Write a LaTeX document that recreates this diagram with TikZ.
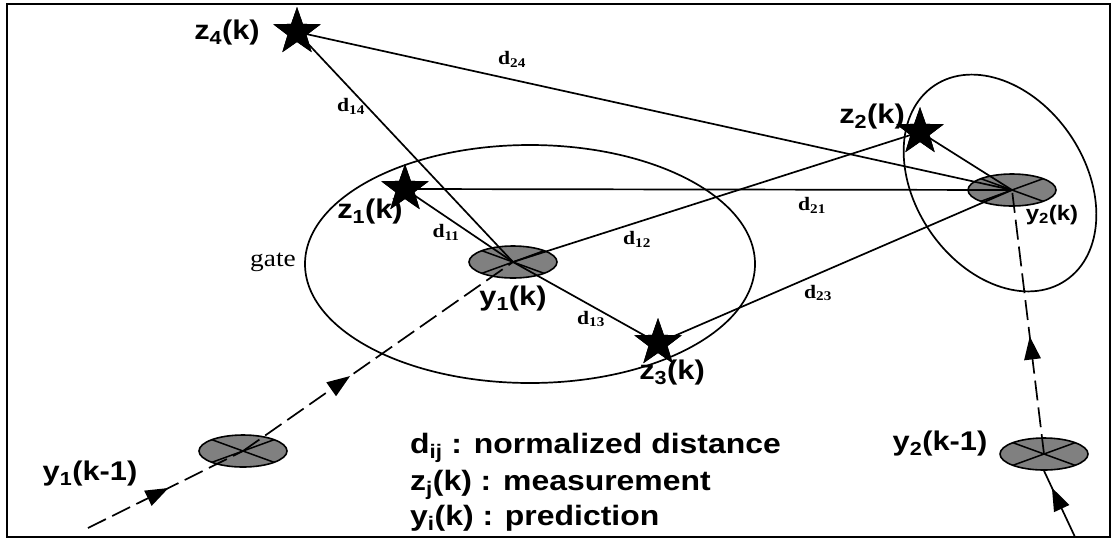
\documentclass[tikz,border=0pt]{standalone}
\usepackage{fontspec}
\setmainfont{Liberation Serif}
\newfontfamily\labfont[FakeStretch=1.14]{Liberation Sans}
\newfontfamily\dfont[FakeStretch=1.14]{Liberation Serif}
\usetikzlibrary{shapes.geometric,decorations.markings}
\definecolor{predgray}{HTML}{808080}
\begin{document}
\begin{tikzpicture}[x=1pt,y=-1pt,
  pred/.style={ellipse,draw,line width=1.6pt,fill=predgray,minimum width=88pt,minimum height=32pt,inner sep=0pt,
    path picture={\draw[line width=1.5pt] (path picture bounding box.north west)--(path picture bounding box.south east)
      (path picture bounding box.south west)--(path picture bounding box.north east);}},
  gatebox/.style={ellipse,draw,line width=1.7pt,inner sep=0pt},
  meas/.style={star,star points=5,star point ratio=2.5,fill=black,minimum size=50pt,inner sep=0pt},
  lab/.style={font=\labfont\bfseries\fontsize{27}{32}\selectfont,inner sep=0pt},
  smlab/.style={font=\labfont\bfseries\fontsize{21}{25}\selectfont,inner sep=0pt},
  leg/.style={font=\labfont\bfseries\fontsize{28}{34}\selectfont,inner sep=0pt,anchor=base west},
  dlab/.style={font=\dfont\bfseries\fontsize{19}{22}\selectfont,inner sep=0pt},
  conn/.style={line width=1.7pt},
  traj/.style={line width=1.7pt,dash pattern=on 20pt off 7pt},
  midarrow/.style={postaction={decorate},decoration={markings,mark=at position #1 with {\fill[solid] (12,0) -- (-11,8.5) -- (-11,-8.5) -- cycle;}}}
]
\useasboundingbox (0,0) rectangle (1113,539);
\draw[line width=2.4pt] (7,4) rectangle (1110,537);

% gates
\node[gatebox,minimum width=450pt,minimum height=238pt] (g1) at (530,264) {};
\node[gatebox,minimum width=235pt,minimum height=170pt,rotate=-56] (g2) at (1000,183) {};
\node[font=\dfont\fontsize{24}{28}\selectfont,inner sep=0pt,anchor=base east] (gl) at (296,266) {gate};

% predictions
\node[pred] (y1) at (513,262) {};
\node[pred] (y2) at (1012,190) {};
\node[pred] (p1) at (243,451) {};
\node[pred] (p2) at (1044,454) {};

% measurements
\node[meas] (z1) at (405,189) {};
\node[meas] (z2) at (920,132) {};
\node[meas] (z3) at (658,343) {};
\node[meas] (z4) at (297,32) {};

% trajectories
\coordinate (s1) at (88,528);
\coordinate (s2) at (1075,537);
\draw[traj,midarrow=0.45] (s1) -- (p1.center);
\draw[traj,midarrow=0.36] (p1.center) -- (y1.center);
\draw[conn,midarrow=0.58] (s2) -- (p2.south);
\draw[traj,midarrow=0.40] (p2.center) -- (y2.center);

% distances
\draw[conn] (z4.center) -- (y1.center);
\draw[conn] (z4.center) -- (y2.center);
\draw[conn] (z1.center) -- (y1.center);
\draw[conn] (z1.center) -- (y2.center);
\draw[conn] (y1.center) -- (z2.center);
\draw[conn] (y1.center) -- (z3.center);
\draw[conn] (z3.center) -- (y2.center);
\draw[conn] (z2.center) -- (y2.center);

% redraw stars on top
\node[meas] (z1t) at (z1) {};
\node[meas] (z2t) at (z2) {};
\node[meas] (z3t) at (z3) {};
\node[meas] (z4t) at (z4) {};

% point labels
\node[lab] (lz4) at (227,33) {z\textsubscript{4}(k)};
\node[lab] (lz1) at (370,212) {z\textsubscript{1}(k)};
\node[lab] (lz2) at (872,117) {z\textsubscript{2}(k)};
\node[lab] (lz3) at (672,373) {z\textsubscript{3}(k)};
\node[lab] (ly1) at (513,299) {y\textsubscript{1}(k)};
\node[smlab] (ly2) at (1052,215) {y\textsubscript{2}(k)};
\node[lab] (lp1) at (90,474) {y\textsubscript{1}(k-1)};
\node[lab] (lp2) at (940,444) {y\textsubscript{2}(k-1)};

% distance labels
\node[dlab] (d14) at (351,106) {d\textsubscript{14}};
\node[dlab] (d24) at (512,59) {d\textsubscript{24}};
\node[dlab] (d11) at (446,232) {d\textsubscript{11}};
\node[dlab] (d12) at (637,239) {d\textsubscript{12}};
\node[dlab] (d13) at (591,319) {d\textsubscript{13}};
\node[dlab] (d21) at (812,205) {d\textsubscript{21}};
\node[dlab] (d23) at (818,293) {d\textsubscript{23}};

% legend
\node[leg] (leg1) at (410,453) {d\textsubscript{ij} : normalized distance};
\node[leg] (leg2) at (410,490) {z\textsubscript{j}(k) : measurement};
\node[leg] (leg3) at (410,525) {y\textsubscript{i}(k) : prediction};
\end{tikzpicture}
\end{document}
